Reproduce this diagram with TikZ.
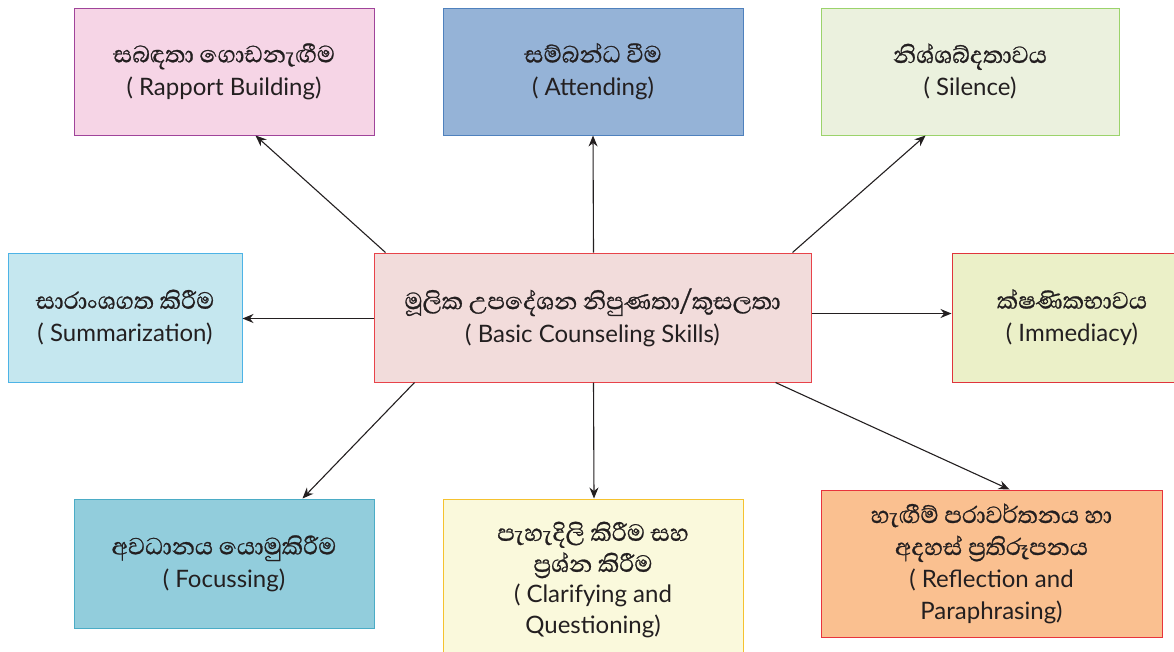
\documentclass[tikz,border=0pt]{standalone}
\usepackage{fontspec}
\setmainfont{Lato}
\newfontfamily\sinhalafont[Script=Sinhala,FakeBold=0.8]{Abhaya Libre}
\usetikzlibrary{arrows.meta}
\definecolor{txt}{HTML}{231F20}
\definecolor{rapF}{HTML}{F6D5E6}\definecolor{rapD}{HTML}{A0449A}
\definecolor{attF}{HTML}{95B3D7}\definecolor{attD}{HTML}{4F81BD}
\definecolor{silF}{HTML}{EBF1DE}\definecolor{silD}{HTML}{9BD36B}
\definecolor{sumF}{HTML}{C5E7EF}\definecolor{sumD}{HTML}{4DB3E6}
\definecolor{ctrF}{HTML}{F2DCDB}\definecolor{ctrD}{HTML}{E8434A}
\definecolor{immF}{HTML}{EBF0C8}\definecolor{immD}{HTML}{E0343C}
\definecolor{focF}{HTML}{92CDDC}\definecolor{focD}{HTML}{4BACC6}
\definecolor{claF}{HTML}{FAF9DC}\definecolor{claD}{HTML}{F5C22F}
\definecolor{refF}{HTML}{FAC090}\definecolor{refD}{HTML}{E8343C}
\tikzset{
  box/.style={draw, line width=1pt, inner sep=0pt, align=center, text=txt,
    font=\fontsize{24}{33}\selectfont},
  arr/.style={draw=txt, line width=1.1pt, -{Stealth[length=11pt,width=9pt]}},
}
\newcommand{\sitxt}[1]{{\sinhalafont\fontsize{30}{33}\selectfont #1}}
\begin{document}
\begin{tikzpicture}[x=1pt,y=-1pt]
\useasboundingbox (0,0) rectangle (1174,651);
\node[box, fill=rapF, draw=rapD, minimum width=300pt, minimum height=127pt] (rap) at (224,71.5)
  {\sitxt{සබඳතා ගොඩනැඟීම}\\( Rapport Building)};
\node[box, fill=attF, draw=attD, minimum width=300pt, minimum height=127pt] (att) at (593,71.5)
  {\sitxt{සම්බන්ධ වීම}\\( Attending)};
\node[box, fill=silF, draw=silD, minimum width=298pt, minimum height=127pt] (sil) at (970,71.5)
  {\sitxt{නිශ්ශබ්දතාවය}\\( Silence)};
\node[box, fill=sumF, draw=sumD, minimum width=234pt, minimum height=129pt] (sum) at (125,317.5)
  {\sitxt{සාරාංශගත කිරීම}\\( Summarization)};
\node[box, fill=ctrF, draw=ctrD, minimum width=437pt, minimum height=129pt] (ctr) at (592.5,317.5)
  {\sitxt{මූලික උපදේශන නිපුණතා/කුසලතා}\\( Basic Counseling Skills)};
\node[box, fill=immF, draw=immD, minimum width=240pt, minimum height=129pt] (imm) at (1072,317.5)
  {\sitxt{ක්ෂණිකභාවය}\\( Immediacy)};
\node[box, fill=focF, draw=focD, minimum width=300pt, minimum height=129pt] (foc) at (224,563.5)
  {\sitxt{අවධානය යොමුකිරීම}\\( Focussing)};
\node[box, fill=claF, draw=claD, minimum width=300pt, minimum height=162pt, font=\fontsize{24}{31}\selectfont] (cla) at (593,580)
  {\sitxt{පැහැදිලි කිරීම සහ}\\\sitxt{ප්‍රශ්න කිරීම}\\( Clarifying and\\Questioning)};
\node[box, fill=refF, draw=refD, minimum width=341pt, minimum height=147pt, font=\fontsize{24}{32}\selectfont] (ref) at (991.5,563.5)
  {\sitxt{හැඟීම් පරාවර්තනය හා}\\\sitxt{අදහස් ප්‍රතිරූපනය}\\( Reflection and\\Paraphrasing)};
% arrows
\draw[arr] ([xshift=12pt]ctr.north west) -- ([xshift=182pt]rap.south west);
\draw[arr] ([xshift=1pt]ctr.north) -- (att.south);
\draw[arr] ([xshift=419pt]ctr.north west) -- ([xshift=105pt]sil.south west);
\draw[arr] ([yshift=-1pt]ctr.west) -- ([yshift=-1pt]sum.east);
\draw[arr] ([yshift=4pt]ctr.east) -- ([yshift=4pt]imm.west);
\draw[arr] ([xshift=41pt]ctr.south west) -- ([xshift=229pt]foc.north west);
\draw[arr] ([xshift=1pt]ctr.south) -- ([xshift=1pt]cla.north);
\draw[arr] ([xshift=402pt]ctr.south west) -- ([xshift=189pt]ref.north west);
\end{tikzpicture}
\end{document}
